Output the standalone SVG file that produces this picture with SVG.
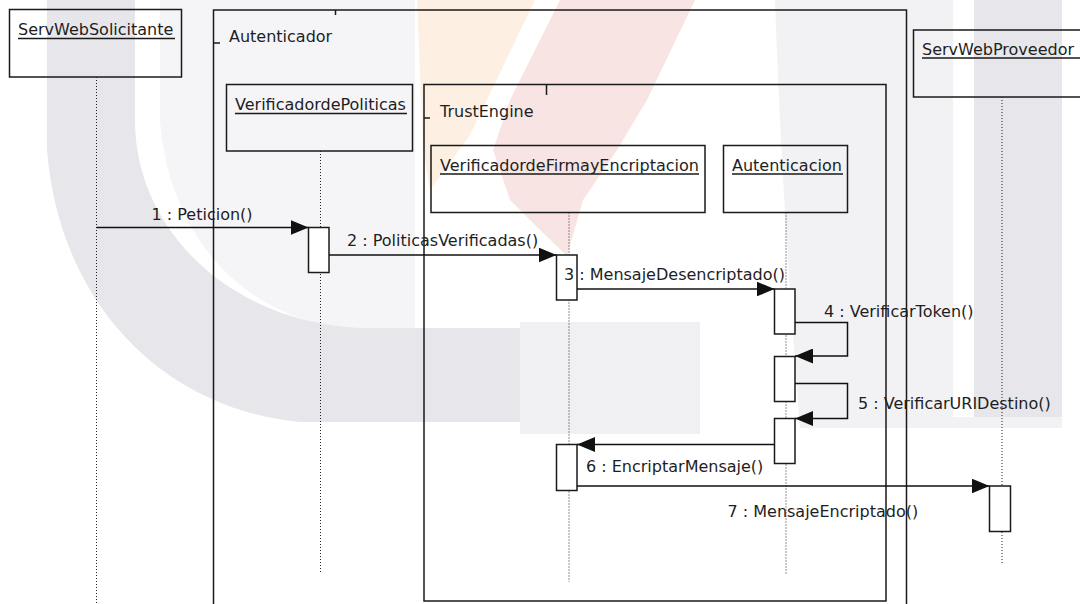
<svg xmlns="http://www.w3.org/2000/svg" width="1080" height="604" viewBox="0 0 1080 604">
  <style>
    .box { fill: none; stroke: #1a1a1a; stroke-width: 1.5; }
    .frame { fill: none; stroke: #1a1a1a; stroke-width: 1.5; }
    .act { fill: #ffffff; stroke: #1a1a1a; stroke-width: 1.5; }
    .life { fill: none; stroke: #222; stroke-width: 1; stroke-dasharray: 1 2; }
    .msg { fill: none; stroke: #111; stroke-width: 1.5; }
    .ul { stroke: #1a1a1a; stroke-width: 1.5; }
    text { font-family: "DejaVu Sans", Verdana, sans-serif; font-size: 16px; fill: #1e1e1e; }
  </style>
  <defs>
    <marker id="arrow" markerUnits="userSpaceOnUse" markerWidth="18" markerHeight="15" refX="18" refY="7.5" orient="auto">
      <path d="M0,0 L18,7.5 L0,15 Z" fill="#111"/>
    </marker>
  </defs>

  <rect width="1080" height="604" fill="#ffffff"/>

  <!-- faint background logo -->
  <g id="watermark">
    <path d="M160,0 H415 V330 H360 C240,322 168,232 160,120 Z" fill="#f5f5f8"/>
    <path d="M520,322 H700 V434 H520 Z" fill="#f0f0f3"/>
    <path d="M47,0 H135 V120 C135,230 230,322 360,328 H520 V422 H300 C170,410 60,310 47,150 Z" fill="#e6e6eb"/>
    <path d="M775,0 H953 V428 H800 C790,300 780,150 775,0 Z" fill="#f2f2f5"/>
    <path d="M974,0 H1062 V417 H974 Z" fill="#e6e6eb"/>
    <path d="M953,417 H1062 V428 H953 Z" fill="#f2f2f5"/>
    <path d="M417,0 H535 L470,135 L430,190 L423,150 Z" fill="#fdf0e2"/>
    <path d="M560,0 H695 L647,100 L617,150 L583,200 L567,256 L540,230 L510,200 L493,150 L510,100 Z" fill="#f9e4e4"/>
  </g>

  <!-- combined fragments -->
  <g id="frame-autenticador">
    <rect class="frame" x="213.5" y="10" width="693" height="620"/>
    <line class="frame" x1="335.5" y1="10" x2="335.5" y2="15"/>
    <line class="frame" x1="213.5" y1="43" x2="220" y2="43"/>
    <text x="229" y="41.5">Autenticador</text>
  </g>
  <g id="frame-trustengine">
    <rect class="frame" x="424" y="84.5" width="462" height="516.5"/>
    <line class="frame" x1="546.5" y1="84.5" x2="546.5" y2="95"/>
    <line class="frame" x1="424" y1="118" x2="430" y2="118"/>
    <text x="440" y="116.5">TrustEngine</text>
  </g>

  <!-- lifelines -->
  <g id="node-servwebsolicitante">
    <rect class="box" x="9.5" y="9.5" width="172" height="67.5"/>
    <text x="18" y="35">ServWebSolicitante</text>
    <line class="ul" x1="18" y1="38.5" x2="175" y2="38.5"/>
    <line class="life" x1="96.5" y1="77" x2="96.5" y2="604"/>
  </g>
  <g id="node-verificadordepoliticas">
    <rect class="box" x="226.5" y="84.5" width="186" height="66.5"/>
    <text x="235" y="110">VerificadordePoliticas</text>
    <line class="ul" x1="235" y1="113.5" x2="407" y2="113.5"/>
    <line class="life" x1="320.5" y1="151" x2="320.5" y2="572"/>
    <rect class="act" x="308.5" y="227.5" width="20.5" height="45"/>
  </g>
  <g id="node-verificadordefirmayencriptacion">
    <rect class="box" x="431" y="145.5" width="274" height="67"/>
    <text x="440" y="171" textLength="259" lengthAdjust="spacingAndGlyphs">VerificadordeFirmayEncriptacion</text>
    <line class="ul" x1="440" y1="174" x2="699" y2="174"/>
    <line class="life" x1="569" y1="212.5" x2="569" y2="582"/>
    <rect class="act" x="556.5" y="255" width="20.5" height="45"/>
    <rect class="act" x="556.5" y="444.5" width="20.5" height="46"/>
  </g>
  <g id="node-autenticacion">
    <rect class="box" x="723.5" y="145.5" width="124" height="67"/>
    <text x="732" y="171">Autenticacion</text>
    <line class="ul" x1="732" y1="174" x2="843" y2="174"/>
    <line class="life" x1="786" y1="212.5" x2="786" y2="574"/>
    <rect class="act" x="774.5" y="289" width="20.5" height="45"/>
    <rect class="act" x="774.5" y="356.5" width="20.5" height="45"/>
    <rect class="act" x="774.5" y="418.5" width="20.5" height="45"/>
  </g>
  <g id="node-servwebproveedor">
    <rect class="box" x="913.5" y="30" width="180" height="67"/>
    <text x="922" y="55">ServWebProveedor</text>
    <line class="ul" x1="922" y1="58" x2="1085" y2="58"/>
    <line class="life" x1="1002" y1="97" x2="1002" y2="565"/>
    <rect class="act" x="989.5" y="486" width="21" height="45.5"/>
  </g>

  <!-- messages -->
  <g id="connectors">
    <line class="msg" x1="96.5" y1="227.5" x2="308.5" y2="227.5" marker-end="url(#arrow)"/>
    <text x="151.5" y="219.5">1 : Peticion()</text>

    <line class="msg" x1="329" y1="255" x2="556.5" y2="255" marker-end="url(#arrow)"/>
    <text x="347" y="245.5">2 : PoliticasVerificadas()</text>

    <line class="msg" x1="577" y1="289" x2="774.5" y2="289" marker-end="url(#arrow)"/>
    <text x="564" y="280">3 : MensajeDesencriptado()</text>

    <polyline class="msg" points="795,322.5 847.5,322.5 847.5,356 795,356" marker-end="url(#arrow)"/>
    <text x="824" y="317">4 : VerificarToken()</text>

    <polyline class="msg" points="795,383.5 847.5,383.5 847.5,418.5 795,418.5" marker-end="url(#arrow)"/>
    <text x="858" y="409">5 : VerificarURIDestino()</text>

    <line class="msg" x1="774.5" y1="444.5" x2="577" y2="444.5" marker-end="url(#arrow)"/>
    <text x="586" y="471.5">6 : EncriptarMensaje()</text>

    <line class="msg" x1="577" y1="486" x2="989.5" y2="486" marker-end="url(#arrow)"/>
    <text x="727.5" y="516.5">7 : MensajeEncriptado()</text>
  </g>
</svg>
